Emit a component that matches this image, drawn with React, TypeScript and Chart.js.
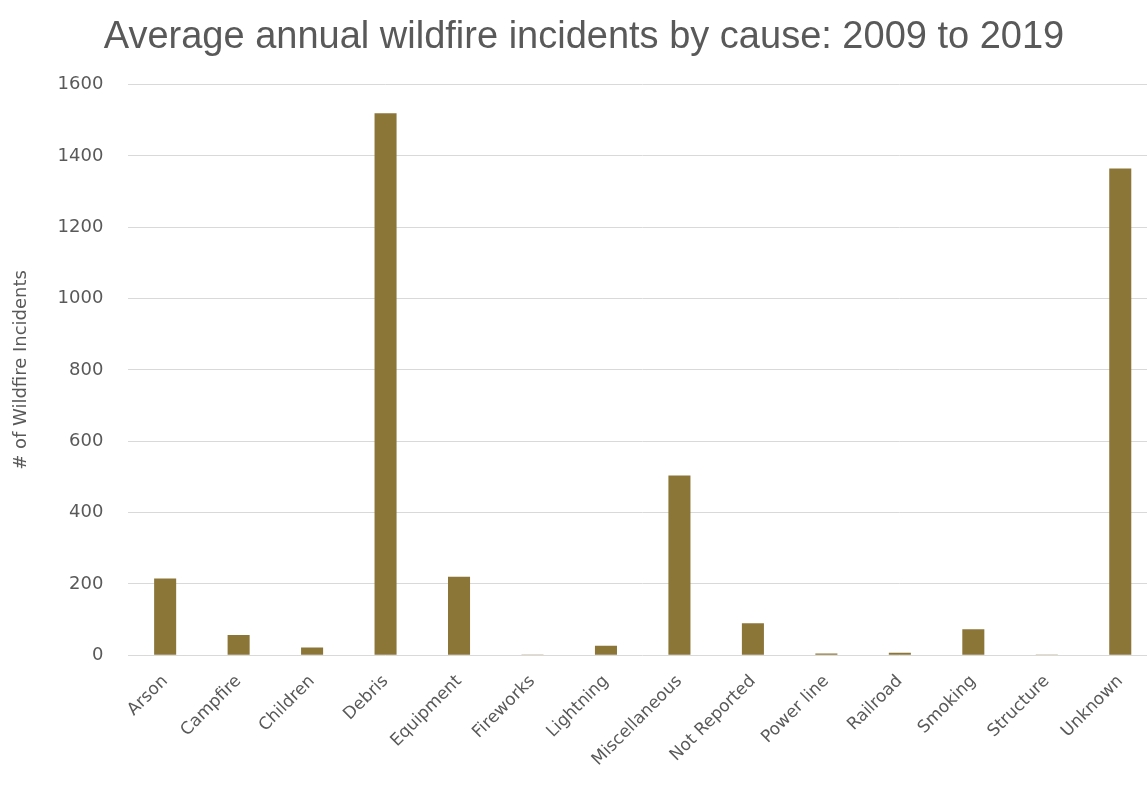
import React, { useEffect, useRef } from "react";
import { Chart, registerables } from "chart.js";

Chart.register(...registerables);

const categories = [
  "Arson", "Campfire", "Children", "Debris", "Equipment", "Fireworks", "Lightning",
  "Miscellaneous", "Not Reported", "Power line", "Railroad", "Smoking", "Structure", "Unknown",
];
const incidents = [215, 57, 22, 1520, 220, 1, 27, 504, 90, 5, 7, 73, 2, 1365];
const yTicks = [0, 200, 400, 600, 800, 1000, 1200, 1400, 1600];

const titleText = "Average annual wildfire incidents by cause: 2009 to 2019";
const yAxisTitle = "# of Wildfire Incidents";

export default function App() {
  const ref = useRef<HTMLCanvasElement | null>(null);
  useEffect(() => {
    if (!ref.current) return;
    const chart = new Chart(ref.current, {
      type: "bar",
      data: {
        labels: categories,
        datasets: [
          {
            label: "Incidents",
            data: incidents,
            backgroundColor: "#8b7638",
            borderWidth: 0,
            barPercentage: 0.6,
            categoryPercentage: 0.5,
          },
        ],
      },
      options: {
        animation: false,
        responsive: false,
        maintainAspectRatio: false,
        layout: { padding: { left: 11, right: 3, top: 0, bottom: 22 } },
        plugins: {
          legend: { display: false },
          tooltip: { enabled: false },
          title: {
            display: true,
            text: titleText,
            color: "#595959",
            font: { family: "'Liberation Sans Narrow', 'Liberation Sans', sans-serif", size: 38, weight: "normal" },
            padding: { top: 15, bottom: 24 },
          },
        },
        scales: {
          x: {
            grid: { display: false },
            border: { display: false },
            ticks: {
              color: "#595959",
              font: { family: "'DejaVu Sans', sans-serif", size: 17 },
              minRotation: 45,
              maxRotation: 45,
              autoSkip: false,
              padding: 8,
            },
          },
          y: {
            min: 0,
            max: 1600,
            afterBuildTicks: (axis: any) => {
              axis.ticks = yTicks.map((v) => ({ value: v }));
            },
            grid: { color: "#d9d9d9", drawTicks: false, lineWidth: 1 },
            border: { display: false },
            ticks: {
              color: "#595959",
              font: { family: "'DejaVu Sans', sans-serif", size: 18 },
              padding: 25,
              callback: (v: any) => String(v),
            },
            title: {
              display: true,
              text: yAxisTitle,
              color: "#595959",
              font: { family: "'DejaVu Sans', sans-serif", size: 18 },
              padding: { top: 0, bottom: 0 },
            },
          },
        },
      },
    });
    return () => chart.destroy();
  }, []);
  return (
    <div style={{ position: "fixed", left: 0, top: 0, width: "100vw", height: "100vh", overflow: "hidden", background: "#fff" }}>
      <canvas ref={ref} width={1160} height={800} style={{ display: "block" }} />
    </div>
  );
}
